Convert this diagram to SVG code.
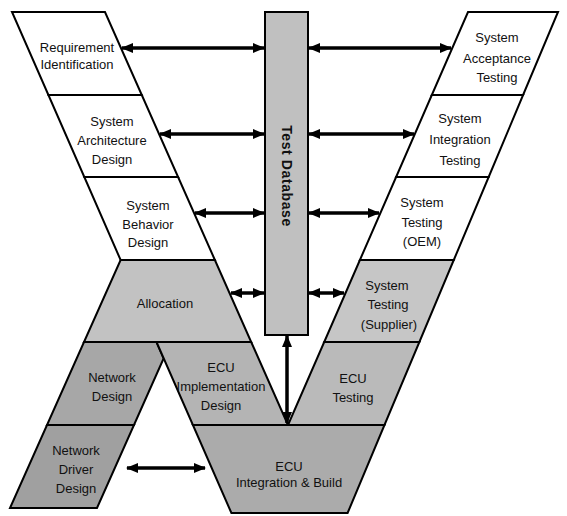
<svg xmlns="http://www.w3.org/2000/svg" width="567" height="516" viewBox="0 0 567 516">
<defs>
<marker id="ah" viewBox="0 0 12 10" refX="11" refY="5" markerWidth="12" markerHeight="10" markerUnits="userSpaceOnUse" orient="auto-start-reverse">
<path d="M0,0 L12,5 L0,10 Z" fill="#000"/>
</marker>
</defs>
<style>
.s{stroke:#000;stroke-width:2;stroke-linejoin:miter}
.w{fill:#fff}
.t{font-family:"Liberation Sans",Arial,sans-serif;font-size:13px;fill:#111;text-anchor:middle}
.db{font-family:"Liberation Sans",Arial,sans-serif;font-size:14px;font-weight:bold;fill:#111;text-anchor:middle;letter-spacing:0.6px}
.c{stroke:#000;stroke-width:3.5;fill:none;marker-start:url(#ah);marker-end:url(#ah)}
</style>
<rect width="567" height="516" fill="#fff"/>

<g id="req">
<polygon class="s w" points="12,12 105,12 141.8,95 48.4,95"/>
<text class="t" x="77" y="52">Requirement</text>
<text class="t" x="77" y="69">Identification</text>
</g>
<g id="sad">
<polygon class="s w" points="48.4,95 141.8,95 178.1,177 84.3,177"/>
<text class="t" x="112" y="126">System</text>
<text class="t" x="112" y="145">Architecture</text>
<text class="t" x="112" y="164">Design</text>
</g>
<g id="sbd">
<polygon class="s w" points="84.3,177 178.1,177 214.9,260 120.6,260"/>
<text class="t" x="148" y="210">System</text>
<text class="t" x="148" y="229">Behavior</text>
<text class="t" x="148" y="247">Design</text>
</g>
<g id="alloc">
<polygon class="s" fill="#c2c2c2" points="120.6,260 214.9,260 251.2,342 84,342"/>
<text class="t" x="165" y="308">Allocation</text>
</g>
<g id="netdes">
<polygon class="s" fill="#a7a7a7" points="84,342 156.5,342 163.6,358.4 134,425 47,425"/>
<text class="t" x="112" y="382">Network</text>
<text class="t" x="112" y="401">Design</text>
</g>
<g id="ecuimpl">
<polygon class="s" fill="#b4b4b4" points="156.5,342 251.2,342 288,425 192.9,425"/>
<text class="t" x="221" y="372">ECU</text>
<text class="t" x="221" y="391">Implementation</text>
<text class="t" x="221" y="410">Design</text>
</g>
<g id="netdrv">
<polygon class="s" fill="#a0a0a0" points="47,425 134,425 97,508 10,508"/>
<text class="t" x="76" y="455">Network</text>
<text class="t" x="76" y="474">Driver</text>
<text class="t" x="76" y="493">Design</text>
</g>
<g id="ecuint">
<polygon class="s" fill="#ababab" points="192.9,425 384.5,425 347.6,513 231.4,513"/>
<text class="t" x="289" y="471">ECU</text>
<text class="t" x="289" y="487">Integration &amp; Build</text>
</g>
<g id="sat">
<polygon class="s w" points="468,12 558,12 523.1,95 431.8,95"/>
<text class="t" x="497" y="42">System</text>
<text class="t" x="497" y="63">Acceptance</text>
<text class="t" x="497" y="82">Testing</text>
</g>
<g id="sit">
<polygon class="s w" points="431.8,95 523.1,95 488.7,177 396.1,177"/>
<text class="t" x="460" y="123">System</text>
<text class="t" x="460" y="144">Integration</text>
<text class="t" x="460" y="165">Testing</text>
</g>
<g id="stoem">
<polygon class="s w" points="396.1,177 488.7,177 453.8,260 359.9,260"/>
<text class="t" x="422" y="207">System</text>
<text class="t" x="422" y="227">Testing</text>
<text class="t" x="422" y="246">(OEM)</text>
</g>
<g id="stsup">
<polygon class="s" fill="#c6c6c6" points="359.9,260 453.8,260 419.4,342 324.2,342"/>
<text class="t" x="387" y="290">System</text>
<text class="t" x="388" y="309">Testing</text>
<text class="t" x="389" y="329">(Supplier)</text>
</g>
<g id="ecutest">
<polygon class="s" fill="#bababa" points="324.2,342 419.4,342 384.5,425 288,425"/>
<text class="t" x="353" y="383">ECU</text>
<text class="t" x="353" y="402">Testing</text>
</g>
<g id="testdb">
<rect class="s" fill="#c0c0c0" x="265" y="12" width="43" height="323"/>
<text class="db" transform="translate(282,176) rotate(90)" x="0" y="0">Test Database</text>
</g>

<g id="connectors">
<line class="c" x1="122" y1="48" x2="264" y2="48"/>
<line class="c" x1="160" y1="134" x2="264" y2="134"/>
<line class="c" x1="195" y1="213" x2="264" y2="213"/>
<line class="c" x1="231" y1="293" x2="264" y2="293"/>
<line class="c" x1="309" y1="48" x2="451" y2="48"/>
<line class="c" x1="309" y1="134" x2="414" y2="134"/>
<line class="c" x1="309" y1="213" x2="379" y2="213"/>
<line class="c" x1="309" y1="293" x2="344" y2="293"/>
<line class="c" x1="287" y1="336" x2="287" y2="423"/>
<line class="c" x1="127" y1="468" x2="205" y2="468"/>
</g>
</svg>
